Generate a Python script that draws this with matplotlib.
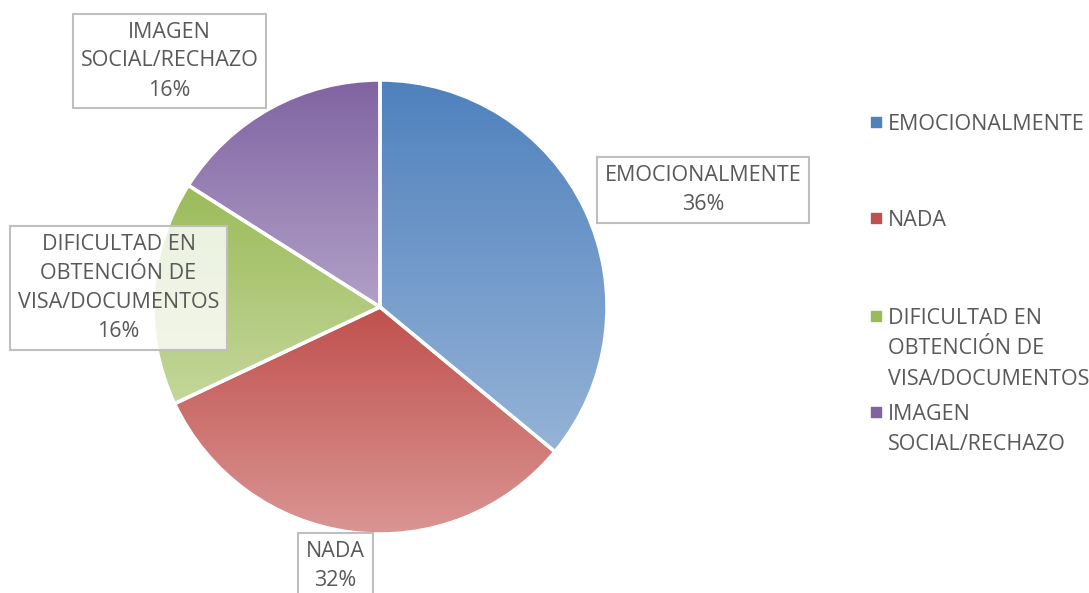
import numpy as np
import matplotlib.pyplot as plt
from matplotlib.colors import LinearSegmentedColormap

categorias = ['EMOCIONALMENTE', 'NADA', 'DIFICULTAD EN\nOBTENCIÓN DE\nVISA/DOCUMENTOS', 'IMAGEN\nSOCIAL/RECHAZO']
porcentajes = [36, 32, 16, 16]
color_arriba = ['#4F81BD', '#C0504D', '#9BBB59', '#8064A2']
color_abajo = ['#95B3D7', '#DA9694', '#C4D79B', '#B1A0C7']

plt.rcParams['font.family'] = ['Open Sans', 'DejaVu Sans']
gris = '#595959'

W, H = 1089, 593
fig = plt.figure(figsize=(W / 100, H / 100), dpi=100)
ax = fig.add_axes([0, 0, 1, 1])

centro = (380, H - 307)
radio = 227
wedges, _ = ax.pie(porcentajes, startangle=90, counterclock=False,
                   center=centro, radius=radio,
                   wedgeprops=dict(edgecolor='white', linewidth=2.5))

# gradiente vertical dentro de cada porcion
for w, c1, c2 in zip(wedges, color_arriba, color_abajo):
    verts = w.get_path().vertices
    x0, x1 = verts[:, 0].min(), verts[:, 0].max()
    y0, y1 = verts[:, 1].min(), verts[:, 1].max()
    cmap = LinearSegmentedColormap.from_list('g', [c2, c1])
    grad = np.linspace(0, 1, 256).reshape(-1, 1)
    im = ax.imshow(grad, cmap=cmap, extent=(x0, x1, y0, y1), origin='lower',
                   aspect='auto', zorder=1, interpolation='bilinear')
    im.set_clip_path(w)
    w.set_facecolor('none')
    w.set_zorder(2)
ax.set_xlim(0, W)
ax.set_ylim(0, H)
ax.axis('off')

fs = 15.5

# etiquetas de datos
pos_etiquetas = [(703, H - 190), (335.5, H - 566), (118.5, H - 288), (169.5, H - 61)]
for cat, p, (x, y) in zip(categorias, porcentajes, pos_etiquetas):
    ax.text(x, y, f'{cat}\n{p}%', ha='center', va='center', multialignment='center',
            fontsize=fs, color=gris, linespacing=1.5, zorder=5,
            bbox=dict(boxstyle='square,pad=0.35', facecolor=(1, 1, 1, 0.8),
                      edgecolor='#BFBFBF', linewidth=1.5))

# leyenda (va='baseline' ancla la ultima linea, se corrige por el numero de lineas)
leg_y = [122, 218, 316, 412]
paso_linea = 30.5
for cat, c, y in zip(categorias, color_arriba, leg_y):
    n = cat.count('\n')
    ax.scatter([876], [H - y], marker='s', s=45, color=c, zorder=5)
    ax.text(888, H - y - 8 - n * paso_linea, cat, ha='left', va='baseline',
            fontsize=fs, color=gris, linespacing=1.6)

fig.savefig('out.png', dpi=100)
